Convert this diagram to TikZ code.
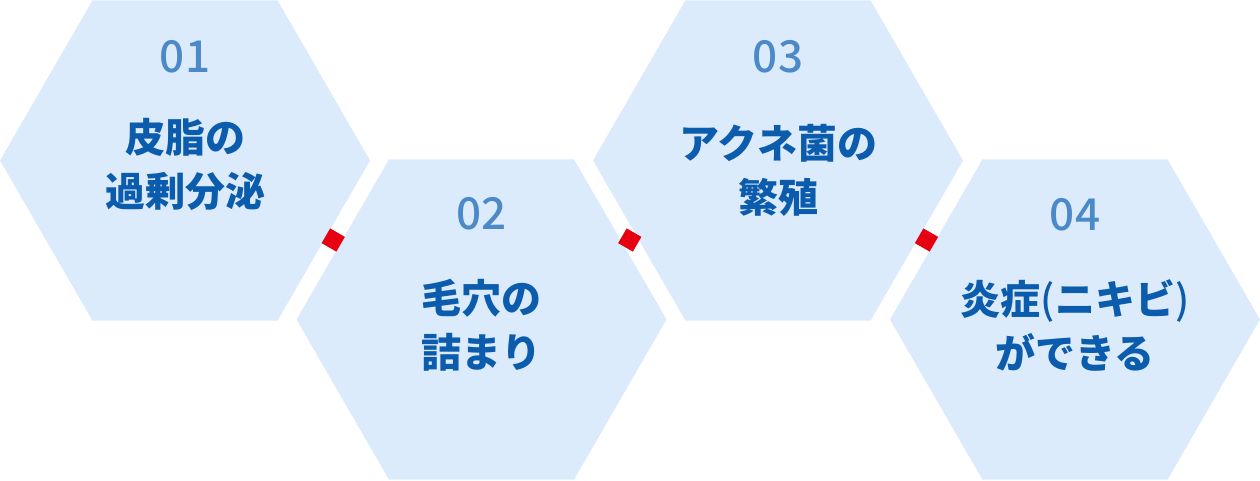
\documentclass[tikz,border=0pt]{standalone}
\usepackage{fontspec}
\newfontfamily\jp{Noto Sans CJK JP}
\newfontfamily\jpnum{Noto Sans CJK JP Medium}
\newfontfamily\jpblack{Noto Sans CJK JP Black}
\usetikzlibrary{shapes.geometric,calc}
\definecolor{hexfill}{HTML}{DCEBFC}
\definecolor{numblue}{HTML}{4B89C8}
\definecolor{titleblue}{HTML}{0B5CAD}
\definecolor{mark}{HTML}{E60012}
\tikzset{
  hexbox/.style={regular polygon, regular polygon sides=6, minimum size=370pt,
    inner sep=0pt, outer sep=0pt, fill=hexfill, draw=none},
  numtext/.style={font=\jpnum\fontsize{44}{44}\selectfont, text=numblue, inner sep=0pt},
  titletext/.style={font=\jpblack\fontsize{40}{54}\selectfont, text=titleblue,
    align=center, inner sep=0pt},
  redsq/.style={rectangle, minimum size=17pt, inner sep=0pt, fill=mark, rotate=60}
}
\begin{document}
\begin{tikzpicture}[x=1pt,y=-1pt]
\useasboundingbox (0,0) rectangle (1260,480);
\node[hexbox] (h1) at (185,160.5) {};
\node[hexbox] (h2) at (481.5,319.5) {};
\node[hexbox] (h3) at (778,160.5) {};
\node[hexbox] (h4) at (1075,319.5) {};
\path (h1) -- node[redsq] (m1) {} (h2);
\path (h2) -- node[redsq] (m2) {} (h3);
\path (h3) -- node[redsq] (m3) {} (h4);
\node[numtext] (n1) at (185,57) {01};
\node[numtext] (n2) at (481.5,214) {02};
\node[numtext] (n3) at (778,57) {03};
\node[numtext] (n4) at (1075,215) {04};
\node[titletext] (t1) at (185,164) {皮脂の\\過剰分泌};
\node[titletext] (t2) at (481.5,325) {毛穴の\\詰まり};
\node[titletext] (t3) at (778,170) {アクネ菌の\\繁殖};
\node[titletext] (t4) at (1075,325) {炎症{\jpnum(}ニキビ{\jpnum)}\\ができる};
\end{tikzpicture}
\end{document}
